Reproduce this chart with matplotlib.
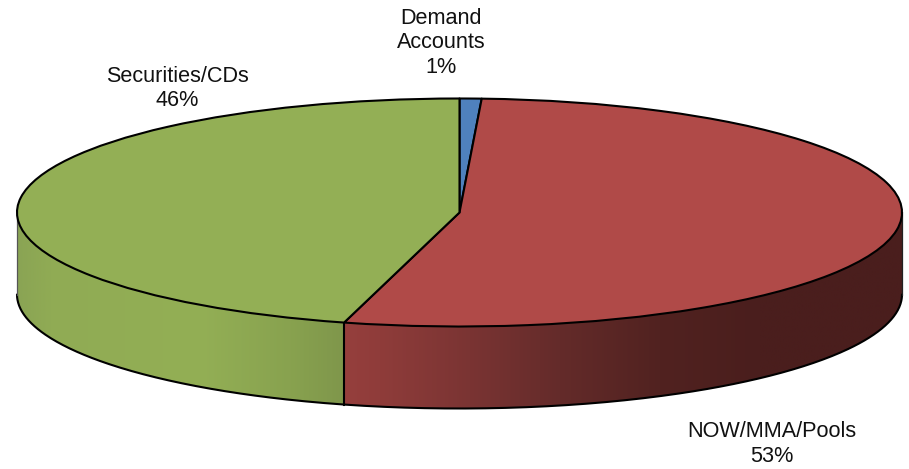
import numpy as np
import matplotlib
matplotlib.use("Agg")
import matplotlib.pyplot as plt
from matplotlib.patches import Polygon
from matplotlib.colors import to_rgb

plt.rcParams['font.family'] = ['Liberation Sans', 'DejaVu Sans']

categories = ['Demand\nAccounts', 'NOW/MMA/Pools', 'Securities/CDs']
values = [0.8, 53.4, 45.8]
labels_pct = ['1%', '53%', '46%']
colors = ['#4F81BD', '#B04A48', '#93AF55']

W, H = 909, 469
CX, CY, RX, RY, DEPTH = 459.5, 212.5, 442.5, 114.0, 82.0

fig = plt.figure(figsize=(W / 100, H / 100), dpi=100)
ax = fig.add_axes([0, 0, 1, 1])
ax.pie(values, colors=colors, startangle=90, counterclock=False, radius=1,
       wedgeprops=dict(edgecolor='black', linewidth=1.5, joinstyle='round'))
ax.set_aspect('auto')
ax.axis('off')

d = DEPTH / RY
cum = np.cumsum(values) / np.sum(values) * 2 * np.pi  # clockwise from the top


def side(a0, a1, color_xs, stops):
    """Front wall between clockwise angles a0 and a1 with a horizontal gradient."""
    t = np.linspace(a0, a1, 200)
    x, y = np.sin(t), np.cos(t)
    poly = np.column_stack([np.r_[x, x[::-1]], np.r_[y, y[::-1] - d]])
    patch = Polygon(poly, closed=True, facecolor='none', edgecolor='none', zorder=0.4)
    ax.add_patch(patch)
    xs = np.linspace(x.min(), x.max(), 500)
    px = CX + xs * RX
    rgb = np.array([to_rgb(c) for c in stops])
    grad = np.stack([np.interp(px, color_xs, rgb[:, i]) for i in range(3)], axis=-1)[None, :, :]
    im = ax.imshow(grad, extent=[x.min(), x.max(), -1 - d, 1], aspect='auto',
                   zorder=0.3, interpolation='bilinear')
    im.set_clip_path(patch)
    ax.plot(x, y - d, color='black', lw=1.5, zorder=0.6, solid_capstyle='round')


side(np.pi / 2, cum[1], [345, 380, 470, 560, 660, 760, 901],
     ['#963F3D', '#8F3C3A', '#7A3433', '#642B2A', '#512220', '#4A1E1D', '#4A1E1D'])
side(cum[1], 3 * np.pi / 2, [17, 50, 200, 290, 345],
     ['#8AA454', '#90AB54', '#93AF55', '#88A24F', '#7F964B'])

ax.set_xlim(-CX / RX, (W - CX) / RX)
ax.set_ylim((CY - H) / RY, CY / RY)

sx, sy = np.sin(cum[1]), np.cos(cum[1])
ax.plot([sx, sx], [sy, sy - d], color='black', lw=1.5, zorder=0.7)
ax.plot([-1, -1], [0, -d], color='#555555', lw=0.9, zorder=0.7)
ax.plot([1, 1], [0, -d], color='#222222', lw=0.9, zorder=0.7)


def P(px, py):
    return (px - CX) / RX, (CY - py) / RY


positions = [P(441, 43), P(772, 444), P(177, 88.5)]
for name, pct, (tx, ty) in zip(categories, labels_pct, positions):
    ax.text(tx, ty, f'{name}\n{pct}', ha='center', va='center', fontsize=15.6,
            linespacing=1.21, color='#111111')

fig.savefig('out.png', dpi=100)
